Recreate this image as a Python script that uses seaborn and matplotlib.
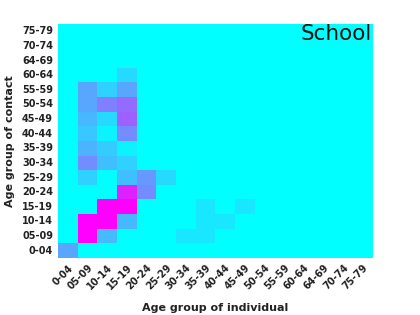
import numpy as np
import pandas as pd
import matplotlib
matplotlib.use("Agg")
import matplotlib.pyplot as plt
import seaborn as sns

# age bands (label "64-69" kept as in the original figure)
age_groups = ["0-04", "05-09", "10-14", "15-19", "20-24", "25-29", "30-34", "35-39",
              "40-44", "45-49", "50-54", "55-59", "60-64", "64-69", "70-74", "75-79"]

# rows = age group of contact (0-04 first), columns = age group of individual
school = [
    [0.35, 0, 0, 0, 0, 0, 0, 0, 0, 0, 0, 0, 0, 0, 0, 0],            # 0-04
    [0, 1.00, 0.27, 0, 0, 0, 0.10, 0.10, 0, 0, 0, 0, 0, 0, 0, 0],   # 05-09
    [0, 1.00, 1.00, 0.28, 0, 0, 0, 0.10, 0.10, 0, 0, 0, 0, 0, 0, 0],  # 10-14
    [0, 0, 1.00, 1.00, 0, 0, 0, 0.10, 0, 0.10, 0, 0, 0, 0, 0, 0],   # 15-19
    [0, 0, 0, 0.87, 0.45, 0, 0, 0, 0, 0, 0, 0, 0, 0, 0, 0],         # 20-24
    [0, 0.18, 0, 0.25, 0.40, 0.15, 0, 0, 0, 0, 0, 0, 0, 0, 0, 0],   # 25-29
    [0, 0.45, 0.25, 0.18, 0, 0, 0, 0, 0, 0, 0, 0, 0, 0, 0, 0],      # 30-34
    [0, 0.30, 0.20, 0.05, 0, 0, 0, 0, 0, 0, 0, 0, 0, 0, 0, 0],      # 35-39
    [0, 0.22, 0.05, 0.45, 0, 0, 0, 0, 0, 0, 0, 0, 0, 0, 0, 0],      # 40-44
    [0, 0.28, 0.15, 0.62, 0, 0, 0, 0, 0, 0, 0, 0, 0, 0, 0, 0],      # 45-49
    [0, 0.35, 0.50, 0.58, 0, 0, 0, 0, 0, 0, 0, 0, 0, 0, 0, 0],      # 50-54
    [0, 0.35, 0.18, 0.35, 0, 0, 0, 0, 0, 0, 0, 0, 0, 0, 0, 0],      # 55-59
    [0, 0, 0, 0.15, 0, 0, 0, 0, 0, 0, 0, 0, 0, 0, 0, 0],            # 60-64
    [0, 0, 0, 0, 0, 0, 0, 0, 0, 0, 0, 0, 0, 0, 0, 0],               # 64-69
    [0, 0, 0, 0, 0, 0, 0, 0, 0, 0, 0, 0, 0, 0, 0, 0],               # 70-74
    [0, 0, 0, 0, 0, 0, 0, 0, 0, 0, 0, 0, 0, 0, 0, 0],               # 75-79
]

df = pd.DataFrame(school, index=age_groups, columns=age_groups)
df = df.iloc[::-1]  # youngest contact at the bottom

sns.set_style("white")
plt.rcParams["font.family"] = ["DejaVu Sans"]

fig = plt.figure(figsize=(4.2, 3.15), dpi=100)
ax = fig.add_axes([0.138, 0.181, 0.750, 0.743])
sns.heatmap(df, cmap="cool", vmin=0, vmax=1, cbar=False, ax=ax,
            xticklabels=True, yticklabels=True)

ax.tick_params(length=0, pad=3.5)
ax.set_xticklabels(df.columns, rotation=45, ha="right", rotation_mode="anchor",
                   fontsize=7, fontweight="bold", color="#222222")
ax.set_yticklabels(df.index, rotation=0, fontsize=7, fontweight="bold", color="#222222")
ax.set_xlabel("Age group of individual", fontsize=8, fontweight="bold", labelpad=8,
              color="#222222")
ax.set_ylabel("Age group of contact", fontsize=8, fontweight="bold", labelpad=5,
              color="#222222")
ax.text(0.995, 1.0, "School", transform=ax.transAxes, ha="right", va="top",
        fontsize=15.5, color="#111111")

fig.savefig("out.png", dpi=100)
